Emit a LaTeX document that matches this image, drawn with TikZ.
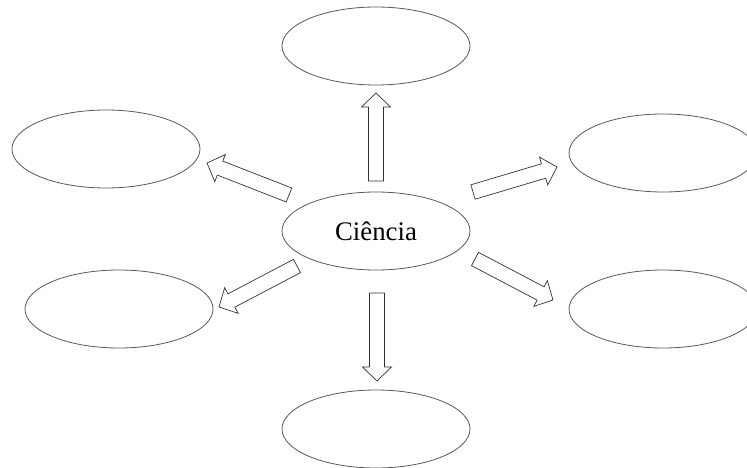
\documentclass[tikz,border=0pt]{standalone}
\usepackage{fontspec}
\setmainfont{Liberation Serif}
\usetikzlibrary{shapes.geometric,calc}
\tikzset{
  bubble/.style={ellipse, draw=black!65, line width=0.8pt, minimum width=188pt, minimum height=78pt, inner sep=0pt},
  blockarrow/.style={draw=black!80, line width=0.7pt, line join=miter,
    to path={let \p1=($(\tikztotarget)!14pt!(\tikztostart)$) in
      ($(\tikztostart)!7.5pt!90:(\tikztotarget)$) --
      ($(\p1)!7.5pt!-90:(\tikztostart)$) --
      ($(\p1)!14.5pt!-90:(\tikztostart)$) --
      (\tikztotarget) --
      ($(\p1)!14.5pt!90:(\tikztostart)$) --
      ($(\p1)!7.5pt!90:(\tikztostart)$) --
      ($(\tikztostart)!7.5pt!-90:(\tikztotarget)$) -- cycle}}
}
\begin{document}
\begin{tikzpicture}[x=1pt,y=-1pt]
\useasboundingbox (0,0) rectangle (747,468);
\clip (0,0) rectangle (747,468);
\node[bubble] (c) at (376,231) {\fontsize{26.8}{30}\selectfont Ciência};
\node[bubble] (t) at (376,46) {};
\node[bubble] (lu) at (106,149) {};
\node[bubble] (ru) at (663,153) {};
\node[bubble] (ll) at (119,309) {};
\node[bubble] (rl) at (663,309) {};
\node[bubble] (b) at (376,429) {};
% arrow ends
\coordinate (ts) at (376,181); \coordinate (te) at (376,93);
\coordinate (bs) at (377,293); \coordinate (be) at (377,381);
\coordinate (lus) at (289,195); \coordinate (lue) at (207,163);
\coordinate (rus) at (473,192); \coordinate (rue) at (557,167);
\coordinate (lls) at (297,266); \coordinate (lle) at (219,307);
\coordinate (rls) at (475,259); \coordinate (rle) at (553,300);
\draw[blockarrow] (ts) to (te);
\draw[blockarrow] (bs) to (be);
\draw[blockarrow] (lus) to (lue);
\draw[blockarrow] (rus) to (rue);
\draw[blockarrow] (lls) to (lle);
\draw[blockarrow] (rls) to (rle);
\end{tikzpicture}
\end{document}
